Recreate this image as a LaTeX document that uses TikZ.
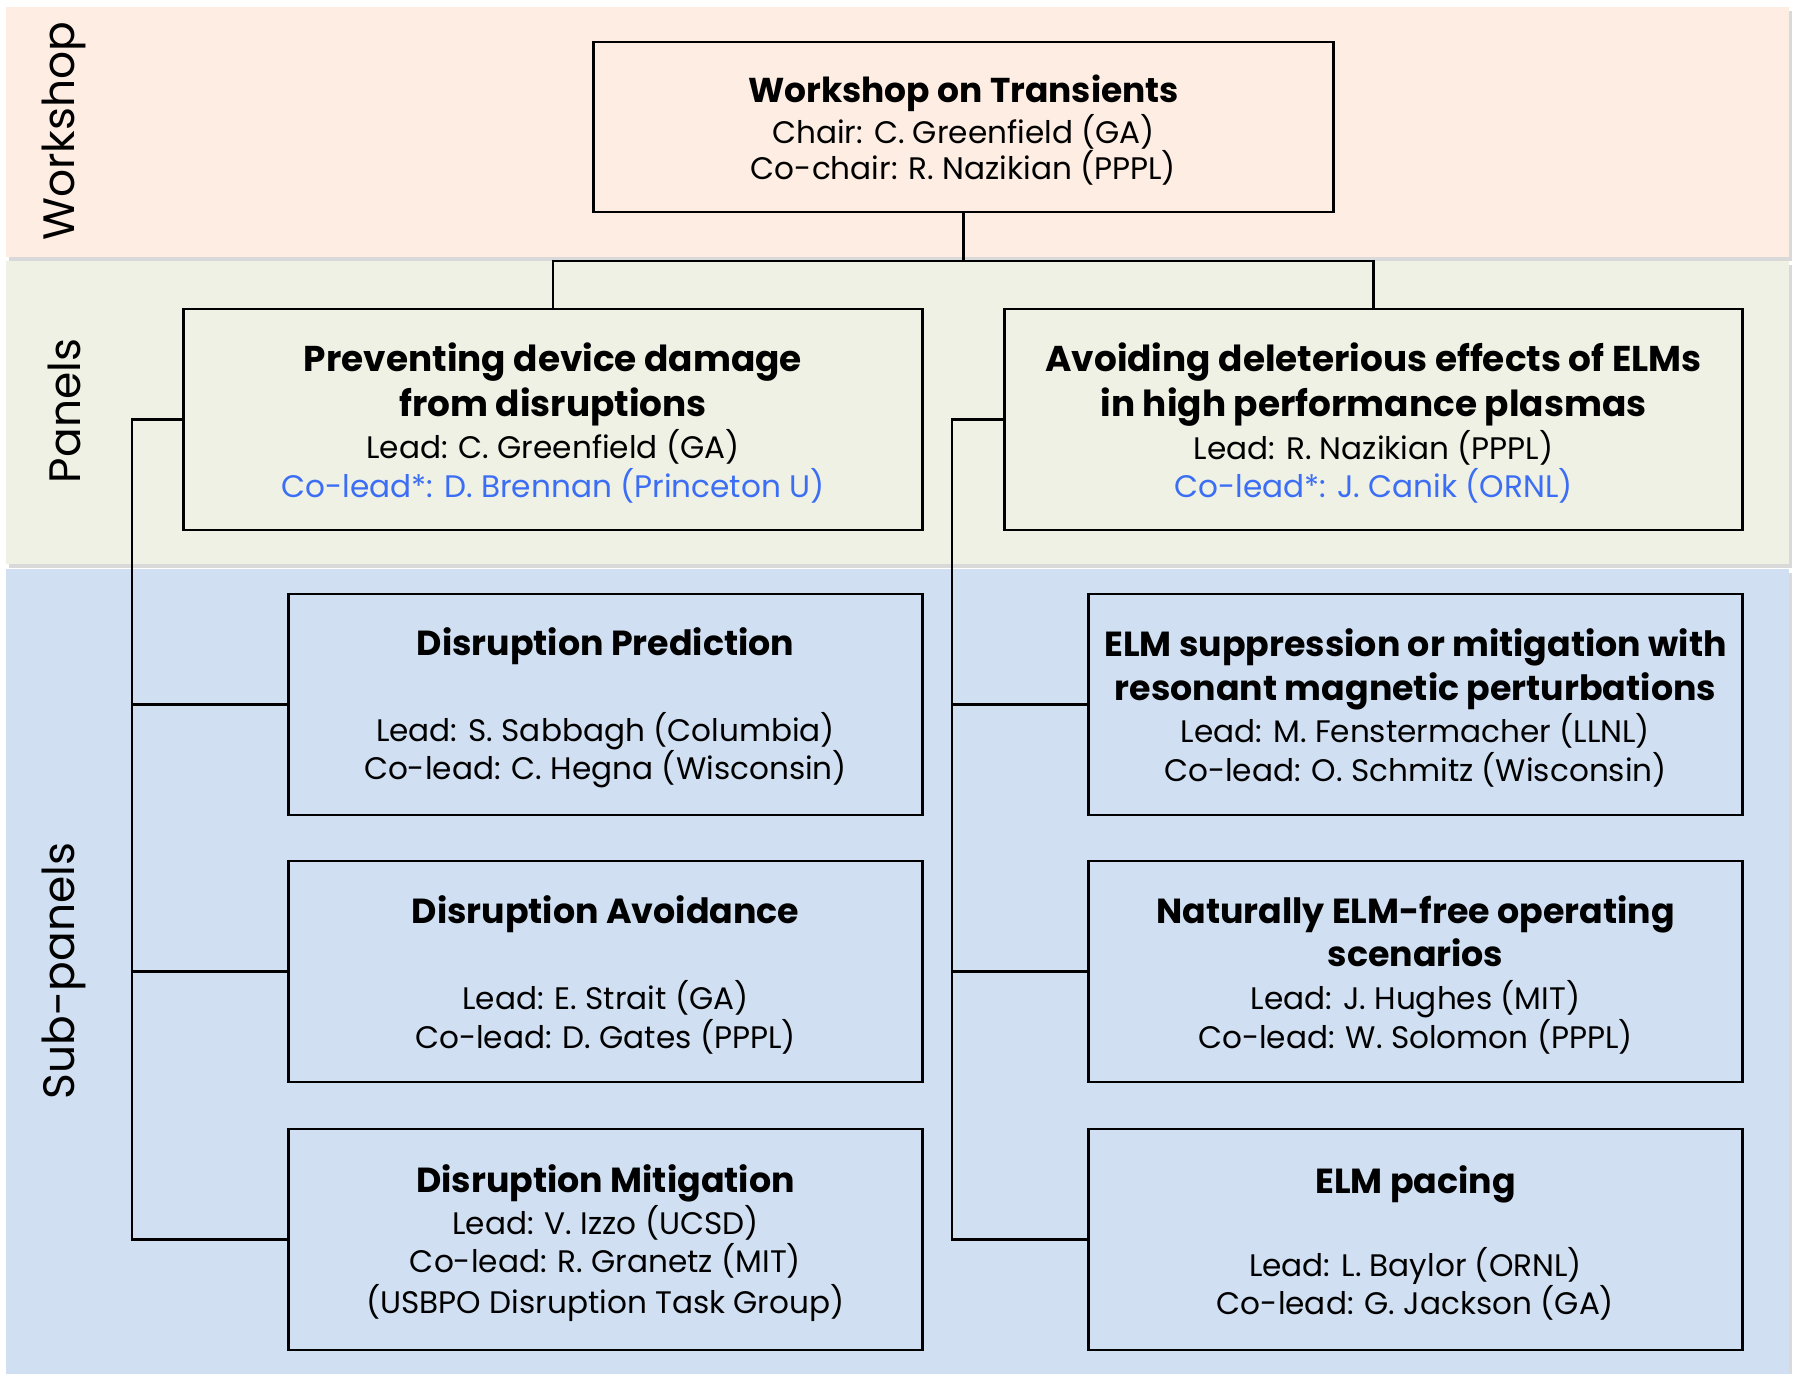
\documentclass[tikz,border=0pt]{standalone}
\usepackage{fontspec}
\setmainfont{Poppins}
\usepackage{xcolor}
\usepackage{tikz}
\usetikzlibrary{positioning,calc,shadows}
\definecolor{wsband}{RGB}{253,237,226}
\definecolor{pnband}{RGB}{238,241,228}
\definecolor{spband}{RGB}{208,224,242}
\definecolor{colead}{RGB}{60,110,245}
% heading fonts start with a strut so that the block sits a bit lower
\newcommand\hd{\fontsize{10.2}{10.9}\selectfont\bfseries\rule{0pt}{1em}}
\newcommand\shd{\fontsize{9.9}{10.9}\selectfont\bfseries\rule{0pt}{1em}}
\newcommand\wshd{\fontsize{9.8}{10.9}\selectfont\bfseries\rule{0pt}{1em}}
\newcommand\hdb{\bfseries}
\newcommand\tx{\fontsize{8.85}{10.9}\selectfont\mdseries}
\tikzset{
  band/.style={draw=none, drop shadow={opacity=0.3, shadow xshift=0.3mm, shadow yshift=-0.4mm}},
  bandlbl/.style={rotate=90, font=\fontsize{12.5}{15}\selectfont},
  box/.style={draw=black, line width=0.8pt, align=center, inner sep=0pt, font=\tx},
  wsbox/.style={box, minimum width=7.39cm, minimum height=1.70cm},
  pnlbox/.style={box, minimum width=7.38cm, minimum height=2.21cm},
  lsub/.style={box, minimum width=6.33cm, minimum height=2.21cm},
  rsub/.style={box, minimum width=6.53cm, minimum height=2.21cm},
  wire/.style={line width=0.8pt, black}
}

\begin{document}
\begin{tikzpicture}[x=0.01cm, y=-0.01cm]
\useasboundingbox (0,0) rectangle (1794,1374);
% bands
\fill[wsband, band] (6,7) rectangle (1789,257);
\fill[pnband, band] (6,261) rectangle (1789,564);
\fill[spband, band] (6,569) rectangle (1789,1374);
\node[bandlbl] (lws) at (64,131) {Workshop};
\node[bandlbl] (lpn) at (64,411) {Panels};
\node[bandlbl] (lsp) at (64,971) {Sub-panels};

\node[wsbox] (ws) at (963.5,127) {\wshd Workshop on Transients\\[0.6pt]
  \tx Chair: C. Greenfield (GA)\\[-0.6pt] \tx Co-chair: R. Nazikian (PPPL)};
\node[pnlbox] (dis) at (553,419.5) {\hd Preventing device damage\\[0.8pt] \fontsize{10.2}{10.9}\selectfont\hdb from disruptions\\
  \tx Lead: C. Greenfield (GA)\\ \tx\color{colead} Co-lead*: D. Brennan (Princeton U)};
\node[pnlbox] (elm) at (1373.5,419.5) {\hd Avoiding deleterious effects of ELMs\\[0.8pt] \fontsize{10.2}{10.9}\selectfont\hdb in high performance plasmas\\
  \tx Lead: R. Nazikian (PPPL)\\ \tx\color{colead} Co-lead*: J. Canik (ORNL)};

\node[lsub] (dpred) at (605.5,704.5) {\shd Disruption Prediction\\[13.5pt]
  \tx Lead: S. Sabbagh (Columbia)\\ \tx Co-lead: C. Hegna (Wisconsin)};
\node[lsub] (davoid) at (605.5,971.5) {\shd Disruption Avoidance\\[13.5pt]
  \tx Lead: E. Strait (GA)\\ \tx Co-lead: D. Gates (PPPL)};
\node[lsub] (dmitig) at (605.5,1239.5) {\shd Disruption Mitigation\\
  \tx Lead: V. Izzo (UCSD)\\ \tx Co-lead: R. Granetz (MIT)\\[0.8pt] \tx (USBPO Disruption Task Group)};

\node[rsub] (rmp) at (1415.5,704.5) {\shd ELM suppression or mitigation with\\[1.5pt] \fontsize{9.9}{10.9}\selectfont\hdb resonant magnetic perturbations\\
  \tx Lead: M. Fenstermacher (LLNL)\\ \tx Co-lead: O. Schmitz (Wisconsin)};
\node[rsub] (nofree) at (1415.5,971.5) {\shd Naturally ELM-free operating\\[1.5pt] \fontsize{9.9}{10.9}\selectfont\hdb scenarios\\[1.2pt]
  \tx Lead: J. Hughes (MIT)\\[0.3pt] \tx Co-lead: W. Solomon (PPPL)};
\node[rsub] (pace) at (1415.5,1239.5) {\shd ELM pacing\\[11.6pt]
  \tx Lead: L. Baylor (ORNL)\\ \tx Co-lead: G. Jackson (GA)};

% connectors
\coordinate (split) at (963.5,261);
\coordinate (ltrunk) at (132,419.5);
\coordinate (rtrunk) at (952,419.5);
\draw[wire] (ws.south) -- (split);
\draw[wire] (dis.north) |- (split) -| (elm.north);
\draw[wire] (dis.west) -- (ltrunk) |- (dmitig.west);
\draw[wire] (elm.west) -- (rtrunk) |- (pace.west);
\foreach \s in {dpred,davoid}
  \draw[wire] (\s.west) -- (\s.west -| ltrunk);
\foreach \s in {rmp,nofree}
  \draw[wire] (\s.west) -- (\s.west -| rtrunk);
\end{tikzpicture}
\end{document}
